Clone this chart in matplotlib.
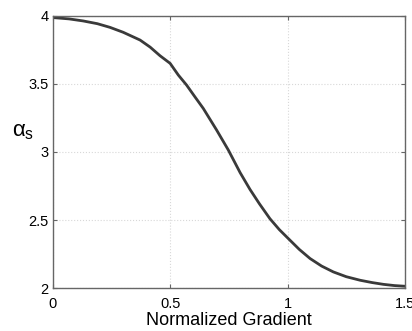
import matplotlib
matplotlib.use("Agg")
import matplotlib.pyplot as plt

grad = [0, 0.07, 0.13, 0.19, 0.244, 0.3, 0.372, 0.415, 0.457, 0.5, 0.535, 0.57, 0.605, 0.641,
        0.698, 0.748, 0.798, 0.84, 0.88, 0.925, 0.965, 1.003, 1.05, 1.096, 1.145, 1.195,
        1.25, 1.309, 1.36, 1.408, 1.455, 1.5]
alpha_s = [3.985, 3.975, 3.96, 3.94, 3.913, 3.877, 3.82, 3.768, 3.705, 3.649, 3.563, 3.49,
           3.405, 3.319, 3.16, 3.013, 2.848, 2.725, 2.62, 2.51, 2.43, 2.365, 2.285, 2.218,
           2.163, 2.12, 2.085, 2.059, 2.042, 2.029, 2.02, 2.015]
xticks = [0, 0.5, 1, 1.5]
xticklabels = ["0", "0.5", "1", "1.5"]
yticks = [2, 2.5, 3, 3.5, 4]
yticklabels = ["2", "2.5", "3", "3.5", "4"]

plt.rcParams['font.family'] = ['Liberation Sans', 'DejaVu Sans']
plt.rcParams['mathtext.fontset'] = 'custom'
plt.rcParams['mathtext.rm'] = 'Liberation Sans'
plt.rcParams['mathtext.it'] = 'Liberation Sans'

fig = plt.figure(figsize=(4.12, 3.31), dpi=100)
W, H = 412, 331
ax = fig.add_axes([52.7 / W, 1 - 288.3 / H, (405 - 52.7) / W, (288.3 - 15.5) / H])
ax.plot(grad, alpha_s, color='#3a3a3a', lw=2.0, solid_capstyle='round', solid_joinstyle='round')
ax.set_xlim(0, 1.5)
ax.set_ylim(2, 4)
ax.set_xticks(xticks)
ax.set_xticklabels(xticklabels)
ax.set_yticks(yticks)
ax.set_yticklabels(yticklabels)
ax.grid(True, color='#d8d8d8', linestyle=':', linewidth=0.8)
for s in ax.spines.values():
    s.set_color('#666666')
    s.set_linewidth(1.0)
ax.tick_params(direction='in', length=3, width=0.8, color='#666666', labelsize=10.5,
               top=True, right=True, labelcolor='black')
ax.tick_params(axis='x', pad=6)
ax.tick_params(axis='y', pad=3)
ax.set_xlabel('Normalized Gradient', fontsize=13, labelpad=1)
fig.text(12 / W, 1 - 132 / H, r'$\alpha_{\mathrm{s}}$', fontsize=16, ha='left', va='center')
fig.savefig('out.png', dpi=100)
